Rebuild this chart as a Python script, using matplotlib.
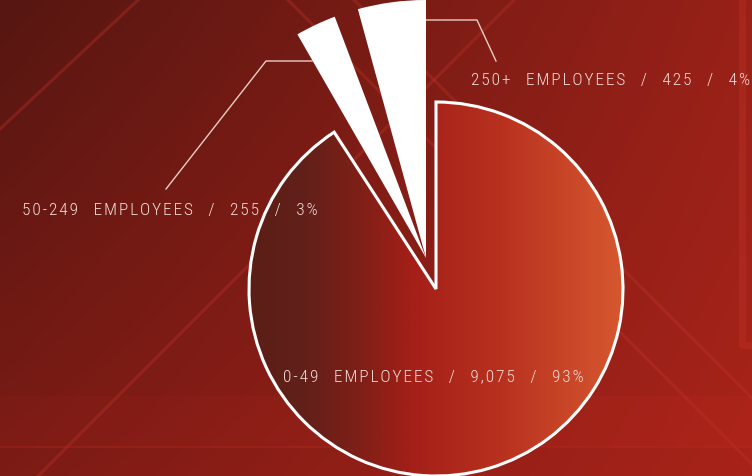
import numpy as np
import matplotlib
matplotlib.use("Agg")
import matplotlib.pyplot as plt
from matplotlib import font_manager
from matplotlib.colors import LinearSegmentedColormap, to_rgb

# data
labels = ["0-49 EMPLOYEES", "50-249 EMPLOYEES", "250+ EMPLOYEES"]
counts = [9075, 255, 425]
percents = [93, 3, 4]

W, H = 752, 477

# pick a narrow font if one is there
names = {f.name for f in font_manager.fontManager.ttflist}
font = "DejaVu Sans"
for cand in ["Roboto Condensed", "Liberation Sans Narrow", "DejaVu Sans Condensed", "Open Sans Condensed"]:
    if cand in names:
        font = cand
        break

fig = plt.figure(figsize=(W / 100, H / 100), dpi=100)
ax = fig.add_axes([0, 0, 1, 1])

# background gradient
yy, xx = np.mgrid[0:H, 0:W]
u = xx / (W - 1)
v = yy / (H - 1)
tl, tr = np.array(to_rgb("#561611")), np.array(to_rgb("#982118"))
bl, br = np.array(to_rgb("#7c1b15")), np.array(to_rgb("#a82319"))
bg = ((1 - u)[..., None] * (1 - v)[..., None] * tl + u[..., None] * (1 - v)[..., None] * tr
      + (1 - u)[..., None] * v[..., None] * bl + u[..., None] * v[..., None] * br)
# slightly lighter strip near the bottom
band = (yy > 396) & (yy < 448)
bg[band] = bg[band] * 1.035
ax.imshow(np.clip(bg, 0, 1), extent=(0, W, 0, H), origin="upper", zorder=0)

# faint diagonal decoration (image coords, y down)
deco = [((0, 130), (139, 0)), ((287, 0), (752, 465)), ((515, 0), (38, 477)),
        ((353, 0), (752, 399))]
for (x0, y0), (x1, y1) in deco:
    ax.plot([x0, x1], [H - y0, H - y1], color="#c0332a", lw=2.2, alpha=0.35, zorder=1)
ax.plot([742, 742, 752], [H, H - 346, H - 346], color="#bf3127", lw=5, alpha=0.4, zorder=1)
ax.plot([0, W], [H - 448, H - 448], color="#b82c22", lw=1.5, alpha=0.3, zorder=1)

# pie: spacers give the small gaps between the slices
total = sum(counts)
g1, g2 = 3.1, 5.4
sp1 = total * g1 / (360 - g1 - g2)
sp2 = total * g2 / (360 - g1 - g2)
vals = [counts[0], sp1, counts[1], sp2, counts[2]]
wedges, _ = ax.pie(vals, startangle=90, counterclock=False,
                   center=(436, H - 290), radius=187,
                   wedgeprops=dict(linewidth=0))
ax.set_xlim(0, W)
ax.set_ylim(0, H)
ax.set_aspect("auto")
ax.axis("off")

big = wedges[0]
big.set_facecolor("none")
big.set_edgecolor("white")
big.set_linewidth(2.2)
big.set_zorder(4)

# horizontal gradient inside the big slice
grad = LinearSegmentedColormap.from_list("g", [
    (0.0, "#5a1e15"), (0.15, "#62201a"), (0.30, "#7e1f17"),
    (0.44, "#a41f18"), (0.68, "#b8311f"), (1.0, "#d6572f")])
gx = np.linspace(0, 1, 400)[None, :]
im = ax.imshow(gx, cmap=grad, extent=(246, 622, 0, H), aspect="auto", zorder=3)
im.set_clip_path(big)

for i in (1, 3):
    wedges[i].set_visible(False)
for i in (2, 4):
    wedges[i].set_center((426, H - 259))
    wedges[i].set_radius(258)
    wedges[i].set_facecolor("white")
    wedges[i].set_zorder(5)


def spaced(s):
    # hair space between letters, wide gap between words
    return "    ".join("\u200a".join(w) for w in s.split(" "))


txt = [f"{labels[i]} / {counts[i]:,} / {percents[i]}%" for i in range(3)]
tc = "#f3dcd6"
fam = [font, "DejaVu Sans"]
kw = dict(color=tc, fontsize=12.5, family=fam, fontweight="light",
          va="center", ha="left", zorder=6)
ax.text(283, H - 377, spaced(txt[0]), **kw)
ax.text(22, H - 211, spaced(txt[1]), **kw)
ax.text(471, H - 80, spaced(txt[2]), **kw)

# leader lines
lc = "#ecccc5"
ax.plot([166, 266, 312], [H - 190, H - 62, H - 62], color=lc, lw=1, zorder=4.5)
ax.plot([420, 477, 496], [H - 21, H - 21, H - 62], color=lc, lw=1, zorder=4.5)

fig.savefig("out.png", dpi=100)
